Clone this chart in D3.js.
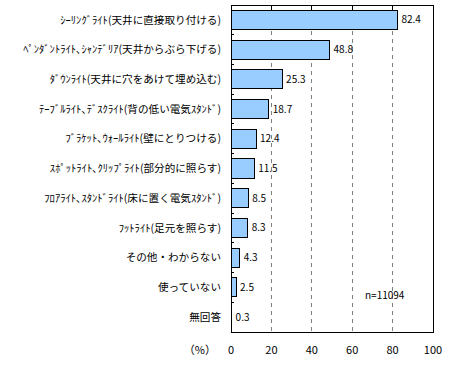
<!DOCTYPE html>
<html lang="ja">
<head>
<meta charset="UTF-8">
<script src="https://d3js.org/d3.v7.min.js"></script>
<style>
  body { margin: 0; background: #fff; }
  text { font-family: "Noto Sans CJK JP", sans-serif; fill: #000; }
  .cat { font-size: 10.6px; }
  .val { font-size: 10px; }
  .tick-label { font-size: 11px; }
</style>
</head>
<body>
<script>
const categories = [
  "ｼｰﾘﾝｸﾞﾗｲﾄ(天井に直接取り付ける)",
  "ﾍﾟﾝﾀﾞﾝﾄﾗｲﾄ､ｼｬﾝﾃﾞﾘｱ(天井からぶら下げる)",
  "ﾀﾞｳﾝﾗｲﾄ(天井に穴をあけて埋め込む)",
  "ﾃｰﾌﾞﾙﾗｲﾄ､ﾃﾞｽｸﾗｲﾄ(背の低い電気ｽﾀﾝﾄﾞ)",
  "ﾌﾞﾗｹｯﾄ､ｳｫｰﾙﾗｲﾄ(壁にとりつける)",
  "ｽﾎﾟｯﾄﾗｲﾄ､ｸﾘｯﾌﾟﾗｲﾄ(部分的に照らす)",
  "ﾌﾛｱﾗｲﾄ､ｽﾀﾝﾄﾞﾗｲﾄ(床に置く電気ｽﾀﾝﾄﾞ)",
  "ﾌｯﾄﾗｲﾄ(足元を照らす)",
  "その他・わからない",
  "使っていない",
  "無回答"
];
const values = [82.4, 48.8, 25.3, 18.7, 12.4, 11.5, 8.5, 8.3, 4.3, 2.5, 0.3];
const xTicks = [0, 20, 40, 60, 80, 100];
const note = "n=11094";
const unitLabel = "（%）";

const width = 463, height = 369;
const plotLeft = 231, plotRight = 433, plotTop = 5, plotBottom = 332;

const svg = d3.select("body").append("svg")
  .attr("width", width).attr("height", height);

const x = d3.scaleLinear().domain([0, 100]).range([plotLeft, plotRight]);
const y = d3.scaleBand().domain(categories).range([plotTop, plotBottom]).paddingInner(0.36).paddingOuter(0.18);

// dashed gridlines
svg.selectAll(".grid").data(xTicks.slice(1, -1)).enter()
  .append("line")
  .attr("x1", d => x(d)).attr("x2", d => x(d))
  .attr("y1", plotTop).attr("y2", plotBottom)
  .attr("stroke", "#808080")
  .attr("stroke-dasharray", "4,4")
  .attr("stroke-dashoffset", -2)
  .attr("shape-rendering", "crispEdges");

// short solid ticks under the top border
svg.selectAll(".ttick").data(xTicks.slice(1, -1)).enter()
  .append("line")
  .attr("x1", d => x(d)).attr("x2", d => x(d))
  .attr("y1", plotTop).attr("y2", plotTop + 5)
  .attr("stroke", "#000")
  .attr("shape-rendering", "crispEdges");

// frame
svg.append("rect")
  .attr("x", plotLeft).attr("y", plotTop)
  .attr("width", plotRight - plotLeft).attr("height", plotBottom - plotTop)
  .attr("fill", "none").attr("stroke", "#000")
  .attr("shape-rendering", "crispEdges");

// left axis ticks at band boundaries
const step = y.step();
svg.selectAll(".ytick").data(categories.slice(1)).enter()
  .append("line")
  .attr("x1", plotLeft).attr("x2", plotLeft + 3)
  .attr("y1", d => y(d) - step * y.paddingInner() / 2)
  .attr("y2", d => y(d) - step * y.paddingInner() / 2)
  .attr("stroke", "#000")
  .attr("shape-rendering", "crispEdges");

// bars
svg.selectAll(".bar").data(values).enter()
  .append("rect")
  .attr("x", x(0))
  .attr("y", (d, i) => y(categories[i]))
  .attr("width", d => x(d) - x(0))
  .attr("height", y.bandwidth())
  .attr("fill", "#99CCFF")
  .attr("stroke", "#000")
  .attr("stroke-width", 1)
  .attr("shape-rendering", "crispEdges");

// value labels
svg.selectAll(".val").data(values).enter()
  .append("text")
  .attr("class", "val")
  .attr("x", d => x(d) + 4)
  .attr("y", (d, i) => y(categories[i]) + y.bandwidth() / 2)
  .attr("dy", "0.35em")
  .text(d => d.toFixed(1));

// category labels
svg.selectAll(".cat").data(categories).enter()
  .append("text")
  .attr("class", "cat")
  .attr("x", plotLeft - 10)
  .attr("y", d => y(d) + y.bandwidth() / 2)
  .attr("dy", "0.35em")
  .attr("text-anchor", "end")
  .text(d => d);

// x tick labels
svg.selectAll(".tick-label").data(xTicks).enter()
  .append("text")
  .attr("class", "tick-label")
  .attr("x", d => x(d))
  .attr("y", 350)
  .attr("dy", "0.35em")
  .attr("text-anchor", "middle")
  .text(d => d);

svg.append("text")
  .attr("class", "tick-label")
  .attr("x", 216).attr("y", 350).attr("dy", "0.35em")
  .attr("text-anchor", "end")
  .text(unitLabel);

svg.append("text")
  .attr("class", "val")
  .attr("x", 365).attr("y", 295).attr("dy", "0.35em")
  .text(note);
</script>
</body>
</html>
